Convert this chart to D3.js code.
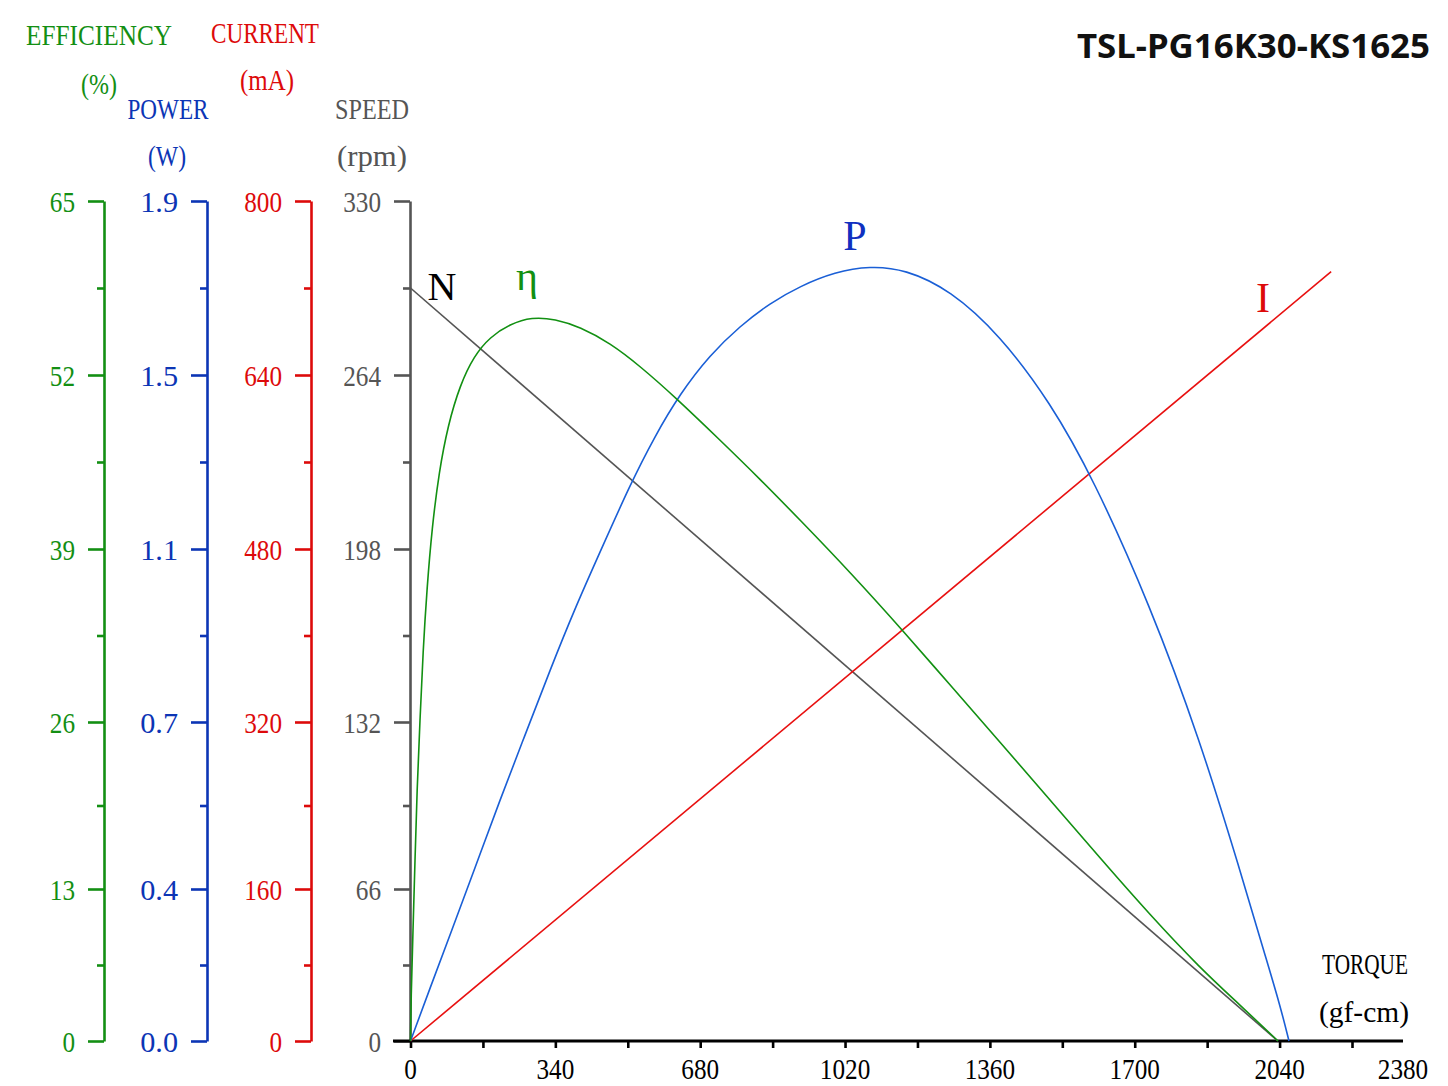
<!DOCTYPE html>
<html><head><meta charset="utf-8">
<script src="https://cdn.jsdelivr.net/npm/d3@7"></script>
<style>body{margin:0;background:#fff}svg{display:block}</style></head>
<body><svg id="c" width="1448" height="1086"></svg>
<script>
// ---------- data ----------
const torqueTicks=[0,170,340,510,680,850,1020,1190,1360,1530,1700,1870,2040,2210];
const torqueLabels=[0,340,680,1020,1360,1700,2040,2380];
const speedTicks=[0,66,132,198,264,330];
const effTicks=[0,13,26,39,52,65];
const powerTicks=[0,0.38,0.76,1.14,1.52,1.9];
const powerTickLabels=["0.0","0.4","0.7","1.1","1.5","1.9"];
const currentTicks=[0,160,320,480,640,800];

const speedTorque=[0,2036];
const speedValues=[297,0];
const currentTorque=[0,2161];
const currentValues=[0,735];
const powerTorque=[0,45.8,92.7,151.4,210.1,268.8,327.5,386.2,444.8,515.2,573.9,632.6,703.0,773.5,843.9,914.3,996.4,1078.6,1160.8,1266.4,1383.8,1501.2,1602.1,1735.8,1853.2,1947.1,2005.8,2041.0,2062.1];
const powerValues=[0,0.132,0.265,0.428,0.583,0.730,0.874,1.010,1.133,1.280,1.387,1.479,1.564,1.627,1.677,1.714,1.745,1.758,1.751,1.706,1.607,1.461,1.295,1.017,0.719,0.423,0.215,0.090,0];
const effTorque=[0,1.2,5.9,10.6,15.3,22.3,29.3,38.7,50.5,66.9,88.0,116.2,149.0,186.6,233.6,285.2,339.2,397.9,468.3,538.7,623.2,726.4,820.3,914.3,1031.6,1160.8,1266.4,1383.8,1501.2,1618.5,1735.8,1853.2,1947.1,2036.3];
const effValues=[0,3.51,9.49,15.26,20.71,26.15,31.26,36.07,40.57,44.75,48.26,51.25,53.42,54.84,55.81,56.33,56.18,55.59,54.39,52.67,50.29,47.14,44.23,41.17,37.27,32.69,28.78,24.44,19.93,15.41,10.78,6.24,3.08,0];

// ---------- layout ----------
const svg=d3.select("#c");
const SERIF="'Liberation Serif','DejaVu Serif',serif";
const yPix=[1041,889,722,549,375,201];
const fr=[0,0.2,0.4,0.6,0.8,1];
const makeY=max=>d3.scaleLinear().domain(fr.map(f=>f*max)).range(yPix);
const yEff=makeY(65), yPow=makeY(1.9), yCur=makeY(800), ySpd=makeY(330);
const x=d3.scaleLinear().domain([0,2210,2380]).range([410.5,1352,1403]);

const GREEN="#138f13", BLUE="#0c35b5", RED="#dd0a0a", GRAY="#555555";
const mids=t=>d3.pairs(t).map(([a,b])=>(a+b)/2);

function leftAxis(xPos,scale,ticks,labels,color,axisColor){
  const g=svg.append("g").attr("transform",`translate(${xPos},0)`).style("color",axisColor||color);
  g.call(d3.axisLeft(scale).tickValues(ticks).tickSize(16).tickSizeOuter(0).tickPadding(13)
     .tickFormat((d,i)=>labels[i]));
  g.append("g").call(d3.axisLeft(scale).tickValues(mids(ticks)).tickSize(7).tickSizeOuter(0).tickFormat(""))
    .select(".domain").remove();
  g.selectAll("path,line").attr("stroke-width",2.6);
  g.selectAll("text").attr("font-family",SERIF).attr("font-size",29).attr("fill",color)
    .attr("dy","0.36em")
    .each(function(){const s=this.textContent;d3.select(this).attr("textLength",s.length*12.6).attr("lengthAdjust","spacingAndGlyphs");});
  return g;
}
leftAxis(104,yEff,effTicks,effTicks.map(String),GREEN);
leftAxis(207,yPow,powerTicks,powerTickLabels,BLUE);
leftAxis(311,yCur,currentTicks,currentTicks.map(String),RED);
leftAxis(410,ySpd,speedTicks,speedTicks.map(String),GRAY,"#555");

// x axis
const gx=svg.append("g").attr("transform","translate(0,1041)");
gx.call(d3.axisBottom(x).tickValues(torqueTicks).tickSize(7).tickSizeOuter(0).tickFormat(""));
gx.select(".domain").remove();
gx.selectAll("line").attr("stroke","#000").attr("stroke-width",2.6);
gx.append("line").attr("x1",393).attr("x2",x(2380)).attr("y1",0).attr("y2",0).attr("stroke","#000").attr("stroke-width",3);
gx.selectAll("text.xl").data(torqueLabels).enter().append("text").attr("class","xl")
  .attr("x",d=>x(d)).attr("y",38).attr("text-anchor","middle")
  .attr("font-family",SERIF).attr("font-size",29).attr("fill","#000")
  .attr("textLength",d=>String(d).length*12.6).attr("lengthAdjust","spacingAndGlyphs")
  .text(d=>d);

// header labels
function label(t,cx,by,color,w,size){
  svg.append("text").attr("x",cx).attr("y",by).attr("text-anchor","middle")
    .attr("font-family",SERIF).attr("font-size",size||30).attr("fill",color)
    .attr("textLength",w).attr("lengthAdjust","spacingAndGlyphs").text(t);
}
label("EFFICIENCY",99,45,GREEN,146);
label("(%)",99,94,GREEN,36);
label("POWER",168,119,BLUE,81);
label("(W)",167,166,BLUE,38);
label("CURRENT",265,43,RED,108);
label("(mA)",267,90,RED,54);
label("SPEED",372,119,GRAY,74);
label("(rpm)",372,166,GRAY,70);
label("TORQUE",1365,974,"#000",86);
label("(gf-cm)",1364,1022,"#000",90);

svg.append("text").attr("x",1430).attr("y",58).attr("text-anchor","end")
  .attr("font-family","'Noto Sans','Open Sans',sans-serif").attr("font-weight","bold")
  .attr("font-size",34).attr("fill","#111").attr("textLength",353).attr("lengthAdjust","spacingAndGlyphs")
  .text("TSL-PG16K30-KS1625");

// curves
const line=(ys)=>d3.line().x(d=>x(d[0])).y(d=>ys(d[1]));
const zip=(a,b)=>a.map((v,i)=>[v,b[i]]);
const plot=svg.append("g").attr("fill","none").attr("stroke-width",1.6);
plot.append("path").attr("d",line(ySpd)(zip(speedTorque,speedValues))).attr("stroke","#555");
plot.append("path").attr("d",line(yCur)(zip(currentTorque,currentValues))).attr("stroke","#e81010");
plot.append("path").attr("d",line(yPow).curve(d3.curveBasis)(zip(powerTorque,powerValues))).attr("stroke","#1a5fd6");
plot.append("path").attr("d",line(yEff).curve(d3.curveBasis)(zip(effTorque,effValues))).attr("stroke","#129012");

// curve labels
function clabel(t,cx,by,color,size){
  svg.append("text").attr("x",cx).attr("y",by).attr("text-anchor","middle")
   .attr("font-family",SERIF).attr("font-size",size).attr("fill",color).text(t);
}
clabel("N",442,300,"#000",40);
clabel("η",527,290,"#129012",42);
clabel("P",855,250,"#1030c0",42);
clabel("I",1263,312,"#dd0a0a",42);
</script></body></html>
